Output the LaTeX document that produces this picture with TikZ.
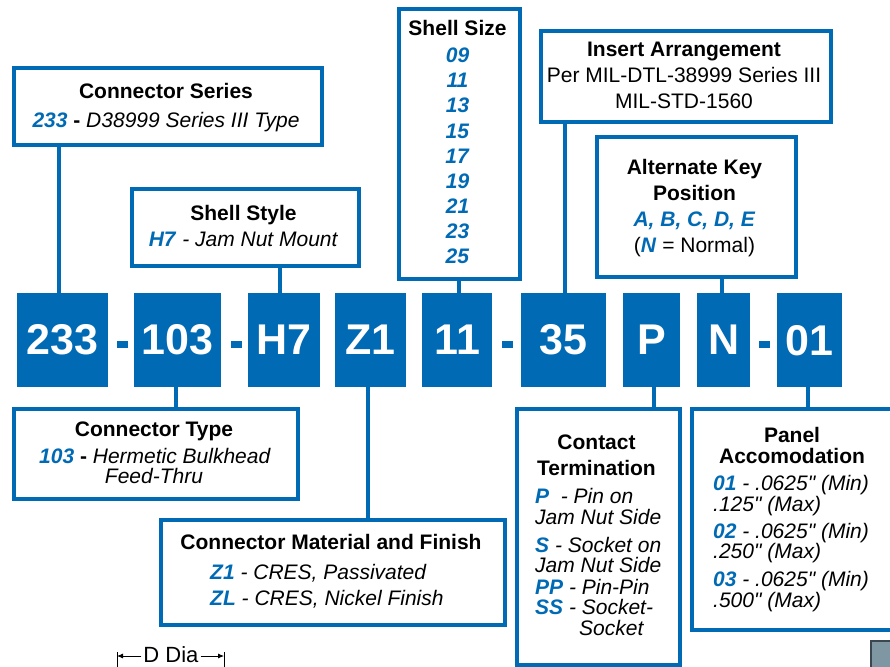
\documentclass[tikz,border=0pt]{standalone}
\usepackage{fontspec}
\setmainfont{Liberation Sans}[Ligatures=TeXOff]
\usetikzlibrary{arrows.meta}
\definecolor{cblue}{HTML}{006AB4}
\definecolor{cgray}{HTML}{7F97A3}
\definecolor{cgrayd}{HTML}{3A4650}
\newcommand{\cd}[1]{\textcolor{cblue}{\textbf{\textit{#1}}}}
\begin{document}
\begin{tikzpicture}[x=1pt,y=-1pt,
  frame/.style={draw=cblue, line width=4pt, inner sep=0pt, anchor=north west},
  code/.style={fill=cblue, text=white, inner sep=0pt, anchor=north west, minimum height=94pt,
    font=\fontsize{43}{43}\selectfont\bfseries},
  lbl/.style={inner sep=0pt, anchor=base, font=\fontsize{21}{25}\selectfont},
  lbll/.style={lbl, anchor=base west},
  hd/.style={lbl, font=\fontsize{21}{25}\selectfont\bfseries},
  link/.style={draw=cblue, line width=4pt},
  dsh/.style={fill=cblue, inner sep=0pt, minimum width=11pt, minimum height=7pt},
  dim/.style={line width=0.8pt, -{Latex[length=6pt,width=5pt]}}
]
\useasboundingbox (0,0) rectangle (890,666);
\clip (0,0) rectangle (890,666);

% frames
\node[frame, minimum width=308pt, minimum height=77pt] (fseries) at (12,66) {};
\node[frame, minimum width=227pt, minimum height=77pt] (fstyle) at (130,187) {};
\node[frame, minimum width=121pt, minimum height=270pt] (fsize) at (397,7) {};
\node[frame, minimum width=290pt, minimum height=91pt] (finsert) at (539,29) {};
\node[frame, minimum width=199pt, minimum height=140pt] (fkey) at (595,135) {};
\node[frame, minimum width=284pt, minimum height=90pt] (ftype) at (12,407) {};
\node[frame, minimum width=344pt, minimum height=105pt] (fmat) at (159,518) {};
\node[frame, minimum width=163pt, minimum height=256pt] (fcont) at (515,407) {};
\node[frame, minimum width=204pt, minimum height=221pt] (fpanel) at (690,407) {};

% code boxes
\node[code, minimum width=91pt] (b233) at (17,293) {233};
\node[code, minimum width=87pt] (b103) at (134,293) {103};
\node[code, minimum width=72pt] (bH7) at (248,293) {H7};
\node[code, minimum width=71pt] (bZ1) at (335,293) {Z1};
\node[code, minimum width=70pt] (b11) at (422,293) {11};
\node[code, minimum width=85pt] (b35) at (521,293) {35};
\node[code, minimum width=57pt] (bP) at (623,293) {P};
\node[code, minimum width=53pt] (bN) at (697,293) {N};
\node[code, minimum width=65pt] (b01) at (777,293) {01};

% dashes
\node[dsh] (d1) at (122.5,344.5) {};
\node[dsh] (d2) at (236,344.5) {};
\node[dsh] (d3) at (507.5,344.5) {};
\node[dsh] (d4) at (764.5,344.5) {};

% links
\draw[link] ([xshift=-3.5pt]b233.north) -- ([xshift=-3.5pt]b233.north |- fseries.south);
\draw[link] ([xshift=-4pt]bH7.north) -- ([xshift=-4pt]bH7.north |- fstyle.south);
\draw[link] ([xshift=2pt]b11.north) -- ([xshift=2pt]b11.north |- fsize.south);
\draw[link] ([xshift=1.5pt]b35.north) -- ([xshift=1.5pt]b35.north |- finsert.south);
\draw[link] ([xshift=-1.5pt]bN.north) -- ([xshift=-1.5pt]bN.north |- fkey.south);
\draw[link] ([xshift=-1.5pt]b103.south) -- ([xshift=-1.5pt]b103.south |- ftype.north);
\draw[link] ([xshift=-2.5pt]bZ1.south) -- ([xshift=-2.5pt]bZ1.south |- fmat.north);
\draw[link] ([xshift=2.5pt]bP.south) -- ([xshift=2.5pt]bP.south |- fcont.north);
\draw[link] ([xshift=-1.5pt]b01.south) -- ([xshift=-1.5pt]b01.south |- fpanel.north);

% Connector Series
\node[hd] (t1a) at (166,99) {Connector Series};
\node[lbl] (t1b) at (166,127) {\cd{233} \textbf{-} \textit{D38999 Series III Type}};
% Shell Style
\node[hd] (t2a) at (243.5,220) {Shell Style};
\node[lbl] (t2b) at (243.5,246) {\cd{H7} \textit{- Jam Nut Mount}};
% Shell Size
\node[hd] (t3a) at (457.5,36) {Shell Size};
\foreach \v [count=\i from 0] in {09,11,13,15,17,19,21,23,25}
  \node[lbl] (ss\i) at (457.5,63+25*\i) {\cd{\v}};
% Insert Arrangement
\node[hd] (t4a) at (684,57) {Insert Arrangement};
\node[lbl] (t4b) at (684,83) {Per MIL-DTL-38999 Series III};
\node[lbl] (t4c) at (684,109) {MIL-STD-1560};
% Alternate Key
\node[hd] (t5a) at (694.5,174) {Alternate Key};
\node[hd] (t5b) at (694.5,200) {Position};
\node[lbl] (t5c) at (694.5,226) {\cd{A, B, C, D, E}};
\node[lbl] (t5d) at (694.5,252) {(\cd{N} = Normal)};
% Connector Type
\node[hd] (t6a) at (154,436) {Connector Type};
\node[lbl] (t6b) at (155,463) {\cd{103} \textbf{-} \textit{Hermetic Bulkhead}};
\node[lbl] (t6c) at (154,483) {\textit{Feed-Thru}};
% Material
\node[hd] (t7a) at (331,549) {Connector Material and Finish};
\node[lbll] (t7b) at (210,579) {\cd{Z1} \textit{- CRES, Passivated}};
\node[lbll] (t7c) at (210,605) {\cd{ZL} \textit{- CRES, Nickel Finish}};
% Contact Termination
\node[hd] (t8a) at (596.5,449) {Contact};
\node[hd] (t8b) at (596.5,475) {Termination};
\node[lbll] (t8c) at (535,503) {\cd{P}\ \ \textit{- Pin on}};
\node[lbll] (t8d) at (535,524) {\textit{Jam Nut Side}};
\node[lbll] (t8e) at (535,552) {\cd{S} \textit{- Socket on}};
\node[lbll] (t8f) at (535,572) {\textit{Jam Nut Side}};
\node[lbll] (t8g) at (535,594) {\cd{PP} \textit{- Pin-Pin}};
\node[lbll] (t8h) at (535,614) {\cd{SS} \textit{- Socket-}};
\node[lbll] (t8i) at (579,635) {\textit{Socket}};
% Panel
\node[hd] (t9a) at (792,442) {Panel};
\node[hd] (t9b) at (792,463) {Accomodation};
\node[lbll] (t9c) at (713,490) {\cd{01} \textit{- .0625" (Min)}};
\node[lbll] (t9d) at (713,511) {\textit{.125" (Max)}};
\node[lbll] (t9e) at (713,538) {\cd{02} \textit{- .0625" (Min)}};
\node[lbll] (t9f) at (713,558) {\textit{.250" (Max)}};
\node[lbll] (t9g) at (713,586) {\cd{03} \textit{- .0625" (Min)}};
\node[lbll] (t9h) at (713,607) {\textit{.500" (Max)}};

% D Dia
\node[lbl, font=\fontsize{22}{25}\selectfont] (ddia) at (171,662) {D Dia};
\coordinate (dl) at (117,656);
\coordinate (dr) at (224,656);
\draw[dim] (ddia.west |- dl) ++(-2,0) -- (dl);
\draw[dim] (ddia.east |- dr) ++(2,0) -- (dr);
\draw[line width=0.8pt] (117,652) -- (117,668);
\draw[line width=0.8pt] (224,652) -- (224,668);

% gray corner
\filldraw[fill=cgray, draw=cgrayd, line width=1.5pt] (871,641) rectangle (900,680);
\end{tikzpicture}
\end{document}
